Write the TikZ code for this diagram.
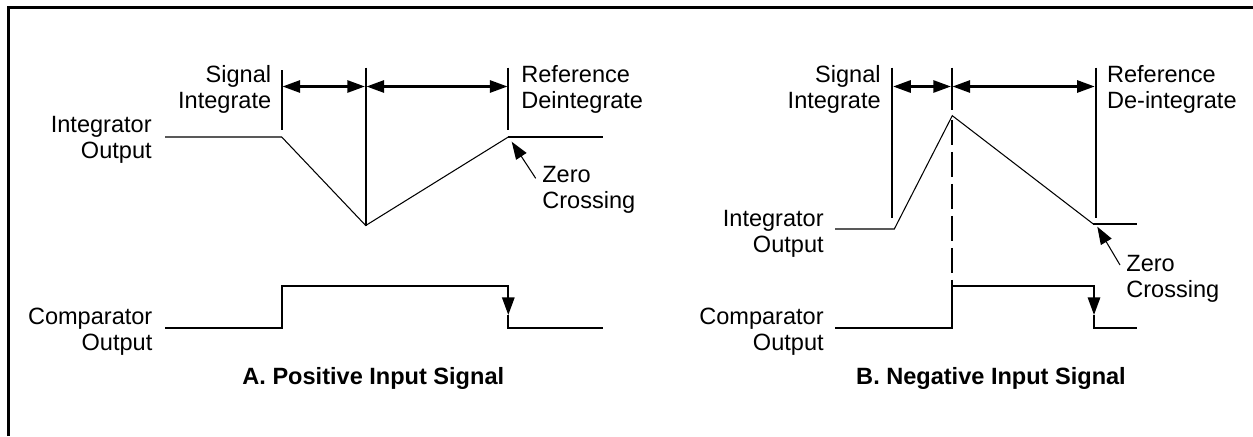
\documentclass[tikz,border=0pt]{standalone}
\usepackage{fontspec}
\setmainfont{Liberation Sans}
\usetikzlibrary{arrows.meta}

\begin{document}
\begin{tikzpicture}[scale=0.2, >={Triangle[length=10pt, width=7pt]},
    heavy/.style={line width=1.14pt},
    light/.style={line width=0.6pt},
    sigtext/.style={inner sep=0pt, font=\fontsize{13.4}{14.8}\selectfont},
    panelname/.style={inner sep=0pt, font=\fontsize{13.4}{14.8}\selectfont\bfseries}]
    \useasboundingbox (0, 0) rectangle (125.3, 43.6);
    \draw[heavy](0.85, 0)--(0.85, 42.85)--(125.3, 42.85);

    \draw[light](16.5, 29.9)--(28.17, 29.9)--(36.57, 21.05)--(50.83, 29.9);
    \draw[heavy](50.83, 29.9)--(60.33, 29.9);
    \draw[heavy](28.17, 36.6)--(28.17, 30.6);
    \draw[heavy](36.57, 36.85)--(36.57, 21.05);
    \draw[heavy](50.83, 36.85)--(50.83, 30.6);
    \draw[heavy, <->, shorten <=0.5pt, shorten >=0.5pt](28.17, 34.95)--(36.57, 34.95);
    \draw[heavy, <->, shorten <=0.5pt, shorten >=0.5pt](36.57, 34.95)--(50.83, 34.95);
    \draw[light, ->](53.57, 25.77)--(51.17, 29.43);
    \draw[heavy, ->](16.5, 10.83)-|(28.17, 15.0)-|(50.83, 12.1);
    \draw[heavy](50.83, 12.1)|-(60.33, 10.83);
    \node[sigtext, align=right, anchor=north east] (sigA) at (27.15, 37.13){Signal\\Integrate};
    \node[sigtext, align=left, anchor=north west] (refA) at (52.1, 37.13){Reference\\Deintegrate};
    \node[sigtext, align=right, anchor=north east] (intA) at (15.2, 32.0){Integrator\\Output};
    \node[sigtext, align=left, anchor=north west] (zeroA) at (54.2, 27.05){Zero\\Crossing};
    \node[sigtext, align=right, anchor=north east] (cmpA) at (15.27, 12.87){Comparator\\Output};
    \node[panelname, anchor=base] (nameA) at (37.33, 5.15){A. Positive Input Signal};

    \draw[light](83.5, 20.7)--(89.43, 20.7)--(95.23, 32.03)--(109.33, 21.2);
    \draw[heavy](109.33, 21.2)--(113.73, 21.2);
    \draw[heavy](89.23, 36.83)--(89.23, 21.77);
    \draw[heavy](95.17, 36.83)--(95.17, 32.6);
    \draw[heavy, dash pattern=on 14.2pt off 4pt](95.17, 31.6)--(95.17, 15.0);
    \draw[heavy](109.55, 36.83)--(109.55, 21.77);
    \draw[heavy, <->, shorten <=0.5pt, shorten >=0.5pt](89.23, 34.95)--(95.17, 34.95);
    \draw[heavy, <->, shorten <=0.5pt, shorten >=0.5pt](95.17, 34.95)--(109.55, 34.95);
    \draw[light, ->](112.0, 17.1)--(109.73, 20.93);
    \draw[heavy, ->](83.5, 10.83)-|(95.17, 15.0)-|(109.4, 12.1);
    \draw[heavy](109.4, 12.1)|-(113.73, 10.83);
    \node[sigtext, align=right, anchor=north east] (sigB) at (88.1, 37.13){Signal\\Integrate};
    \node[sigtext, align=left, anchor=north west] (refB) at (110.67, 37.13){Reference\\De-integrate};
    \node[sigtext, align=right, anchor=north east] (intB) at (82.4, 22.63){Integrator\\Output};
    \node[sigtext, align=left, anchor=north west] (zeroB) at (112.6, 18.13){Zero\\Crossing};
    \node[sigtext, align=right, anchor=north east] (cmpB) at (82.4, 12.87){Comparator\\Output};
    \node[panelname, anchor=base] (nameB) at (99.1, 5.15){B. Negative Input Signal};
\end{tikzpicture}
\end{document}
